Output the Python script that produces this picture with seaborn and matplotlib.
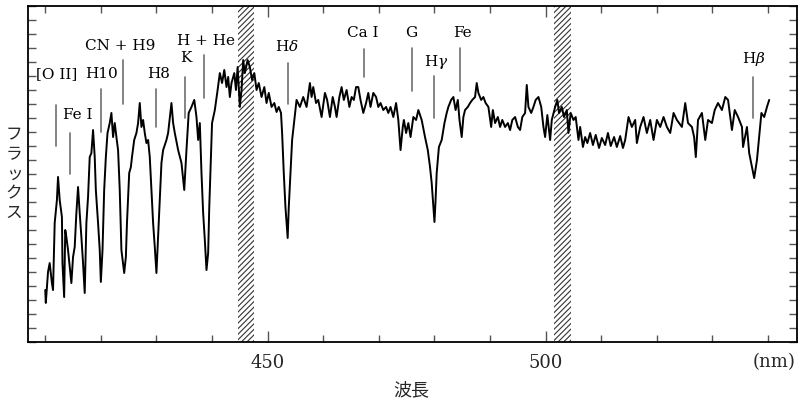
import matplotlib
matplotlib.use("Agg")
import matplotlib.pyplot as plt
import matplotlib.ticker as mticker
import numpy as np
import pandas as pd
import seaborn as sns

# spectrum: wavelength (nm) and flux (in y-tick units)
wl_1 = [410.0, 410.1, 410.5, 410.8, 411.2, 411.4, 411.7, 412.1, 412.3, 412.6,
        413.0, 413.1, 413.4, 413.6, 413.8, 414.1, 414.4, 414.7, 415.0, 415.3,
        415.6, 415.9, 416.2, 416.5, 416.8, 417.1, 417.4, 417.7, 418.0, 418.3,
        418.6, 418.9, 419.1, 419.5, 419.8, 420.0, 420.3, 420.6, 420.9, 421.2,
        421.6, 421.9, 422.2, 422.5, 422.8, 423.1, 423.4, 423.7, 424.2, 424.5,
        424.7, 425.1, 425.4, 425.6, 426.0, 426.4, 426.7, 427.0, 427.3, 427.6,
        427.9, 428.2, 428.5, 428.8, 429.1, 429.4, 429.7, 430.0, 430.3, 430.6,
        430.9, 431.2, 431.8]
flux_1 = [3.71, 2.79, 5.0, 5.64, 4.21, 3.71, 8.5, 10.14, 11.79, 10.14,
          8.93, 5.64, 3.21, 8.0, 7.5, 6.57, 5.36, 4.21, 6.07, 6.79,
          9.21, 11.07, 9.21, 7.5, 5.64, 3.5, 8.5, 10.36, 13.21, 13.5,
          15.14, 13.21, 10.86, 8.5, 6.57, 4.29, 6.57, 10.86, 13.21, 14.93,
          15.64, 16.36, 14.64, 15.64, 14.64, 13.71, 10.86, 6.57, 4.93, 6.07,
          8.5, 12.07, 12.5, 13.21, 14.43, 14.93, 15.64, 17.07, 15.36, 15.86,
          14.93, 14.21, 14.43, 13.21, 10.86, 8.5, 6.79, 4.93, 7.5, 10.14,
          12.79, 13.71, 14.43]

wl_2 = [432.1, 432.7, 433.0, 433.3, 433.9, 434.5, 435.0, 435.4, 435.8, 436.3,
        436.8, 437.2, 437.5, 437.8, 438.1, 438.4, 438.7, 439.0, 439.3, 439.5,
        439.8, 440.0, 440.5, 441.0, 441.4, 441.8, 442.2, 442.6, 442.9, 443.2,
        443.5, 444.0, 444.3, 444.6, 445.0, 445.3, 445.6, 445.9, 446.4, 446.8,
        447.2, 447.6, 448.0, 448.4, 448.9, 449.4, 449.8, 450.2, 450.7, 451.2,
        451.6, 452.0, 452.4, 452.6, 452.9, 453.2, 453.6, 453.8, 454.1, 454.4]
flux_2 = [14.93, 17.07, 15.64, 14.93, 13.71, 12.79, 10.86, 13.71, 16.36, 16.79,
          17.29, 16.07, 14.43, 15.64, 12.07, 9.21, 7.29, 5.14, 6.36, 9.64,
          13.21, 15.64, 16.57, 18.0, 19.21, 18.5, 19.43, 18.21, 18.93, 17.5,
          18.5, 19.21, 18.0, 19.64, 16.79, 18.0, 20.14, 19.21, 20.14, 19.64,
          18.71, 19.21, 18.0, 18.5, 17.5, 18.21, 17.07, 17.79, 16.79, 17.07,
          16.43, 16.79, 16.36, 14.93, 12.07, 9.64, 7.43, 9.64, 12.07, 14.43]

wl_3 = [455.2, 455.8, 456.4, 457.0, 457.6, 457.9, 458.2, 458.7, 459.1, 459.7,
        460.3, 460.7, 461.2, 461.7, 462.1, 462.4, 462.9, 463.3, 463.7, 464.2,
        464.7, 465.1, 465.5, 465.9, 466.3, 466.7, 467.2, 467.7, 468.1, 468.5,
        469.0, 469.5, 469.9, 470.3, 470.8, 471.3, 471.7, 472.1, 472.6, 473.1,
        473.5, 473.9, 474.3, 474.5, 474.9, 475.3, 475.7, 476.2, 476.7, 477.1,
        477.7, 478.3, 478.8, 479.2, 479.5, 479.8, 480.0, 480.2, 480.4, 480.8,
        481.3, 481.8, 482.2, 482.5, 483.0, 483.4, 483.8, 484.2, 484.5, 484.9,
        485.2, 485.5, 486.0, 486.4, 486.8, 487.3, 487.6, 487.9, 488.4, 488.8,
        489.2, 489.7, 490.2, 490.5, 490.9, 491.4, 491.8]
flux_3 = [17.29, 16.79, 17.5, 16.79, 18.5, 17.5, 18.21, 17.07, 17.29, 16.07,
          17.79, 17.29, 16.07, 17.5, 16.79, 16.07, 17.5, 18.21, 17.29, 18.0,
          16.79, 17.5, 17.29, 18.21, 18.21, 17.29, 16.36, 17.07, 17.79, 16.79,
          17.79, 17.5, 16.79, 17.07, 16.57, 16.79, 16.36, 16.79, 16.07, 17.07,
          15.86, 13.71, 15.36, 15.86, 14.93, 15.64, 14.64, 16.07, 15.86, 16.57,
          15.86, 14.64, 13.71, 12.5, 11.36, 9.64, 8.57, 10.14, 12.07, 13.93,
          14.43, 15.64, 16.36, 16.79, 17.29, 17.5, 16.57, 17.29, 15.86, 14.64,
          16.07, 16.57, 16.79, 17.07, 17.29, 17.5, 18.5, 17.79, 17.29, 17.5,
          17.07, 16.79, 15.36, 16.57, 15.64, 16.07, 15.36]

wl_4 = [492.2, 492.7, 493.2, 493.6, 494.0, 494.5, 495.0, 495.4, 495.8, 496.3,
        496.6, 496.9, 497.4, 497.8, 498.2, 498.7, 499.2, 499.6, 499.9, 500.3,
        500.8, 501.1, 501.7, 502.1, 502.4, 502.9, 503.3, 503.8, 504.1, 504.5,
        505.0, 505.4, 505.9, 506.2, 506.7, 507.1, 507.5, 508.0, 508.5, 509.0,
        509.6, 510.1, 510.7, 511.2, 511.7, 512.3, 512.8, 513.4, 513.9, 514.3,
        514.9, 515.5, 516.1, 516.4, 517.0, 517.6, 518.2, 518.8, 519.4, 520.0,
        520.6, 521.2, 521.8, 522.4, 523.0, 523.6, 524.5, 525.1, 525.6, 526.3,
        526.7, 527.0, 527.4, 528.1, 528.7, 529.2, 529.9, 530.4, 531.0, 531.7,
        532.3, 532.8, 533.5, 534.0, 534.6, 535.3, 535.5, 536.2, 536.6, 537.1,
        537.5, 538.0, 538.4, 538.8, 539.3, 539.8, 540.2]
flux_4 = [15.86, 15.36, 15.64, 15.14, 15.86, 16.07, 15.36, 15.14, 16.07, 16.36,
          18.36, 16.79, 16.36, 16.79, 17.29, 17.5, 16.79, 15.36, 14.64, 16.21,
          14.43, 15.86, 16.79, 17.29, 16.36, 16.79, 16.07, 16.57, 14.93, 16.36,
          15.86, 16.07, 14.43, 15.36, 13.93, 14.64, 14.21, 14.93, 14.07, 14.79,
          13.86, 14.57, 14.07, 14.93, 14.0, 14.64, 13.93, 14.71, 13.86, 14.43,
          16.07, 15.36, 15.86, 14.21, 15.36, 16.07, 14.93, 15.86, 14.43, 15.86,
          15.36, 16.07, 15.36, 14.93, 16.36, 15.86, 15.36, 17.07, 15.64, 15.36,
          14.64, 13.21, 15.86, 16.36, 14.43, 15.86, 15.64, 16.57, 17.07, 16.57,
          17.5, 17.29, 15.14, 16.57, 16.07, 15.36, 13.93, 15.36, 13.5, 12.5,
          11.71, 13.0, 14.64, 16.36, 16.07, 16.79, 17.29]

# line identifications
line_names = ["[O II]", "Fe I", "H10", "CN + H9", "H8", "K", "H + He",
              "H$\\delta$", "Ca I", "G", "H$\\gamma$", "Fe", "H$\\beta$"]
line_wl = [412.0, 414.5, 420.0, 424.0, 430.0, 435.05, 438.6,
           453.6, 467.4, 475.9, 479.9, 484.6, 537.3]

# masked (hatched) wavelength bands
bands = [(444.6, 447.6), (501.5, 504.5)]

# where the labels / marker ticks sit
label_pos = [(412.0, 19.14), (415.9, 16.21), (420.1, 19.14), (423.5, 21.14),
             (430.4, 19.14), (435.3, 20.29), (439.0, 21.52), (453.5, 21.1),
             (467.1, 22.07), (475.9, 22.07), (480.4, 20.0), (485.1, 22.07),
             (537.5, 20.21)]
tick_span = [(14.0, 16.93), (12.0, 14.93), (15.0, 18.07), (17.0, 20.14),
             (15.36, 18.07), (16.0, 18.93), (17.43, 20.5), (17.0, 19.93),
             (18.93, 20.93), (17.93, 21.0), (16.0, 19.0), (17.93, 21.0),
             (16.0, 18.93)]

df = pd.DataFrame({"wl": wl_1 + wl_2 + wl_3 + wl_4,
                   "flux": flux_1 + flux_2 + flux_3 + flux_4})

sns.set_style("ticks")
plt.rcParams["font.family"] = ["DejaVu Serif", "Noto Sans CJK JP"]
plt.rcParams["mathtext.fontset"] = "dejavuserif"
plt.rcParams["hatch.linewidth"] = 0.8

fig = plt.figure(figsize=(7.99, 3.99), dpi=100)
ax = fig.add_axes([28 / 799, 57 / 399, 769 / 799, 336 / 399])

for lo, hi in bands:
    ax.axvspan(lo, hi, facecolor="none", edgecolor="#333333", hatch="//////",
               linewidth=0, zorder=1)

sns.lineplot(data=df, x="wl", y="flux", color="black", linewidth=1.4,
             sort=False, estimator=None, ax=ax, zorder=3)

for name, (tx, ty), lw_, (y0, y1) in zip(line_names, label_pos, line_wl, tick_span):
    ax.plot([lw_, lw_], [y0, y1], color="#6e6e6e", linewidth=1.2, zorder=2)
    ax.text(tx, ty, name, ha="center", va="center", fontsize=11, color="black")

ax.set_xlim(406.9, 545.2)
ax.set_ylim(0, 24)
ax.set_xlabel("")
ax.set_ylabel("")

ax.xaxis.set_major_locator(mticker.FixedLocator([450, 500]))
ax.xaxis.set_minor_locator(mticker.FixedLocator([410, 420, 430, 440, 460, 470, 480, 490,
                                                 510, 520, 530, 540]))
ax.set_xticklabels(["450", "500"], fontsize=13)
ax.yaxis.set_major_locator(mticker.MultipleLocator(1))
ax.set_yticklabels([])
ax.tick_params(axis="x", which="major", direction="in", length=8, width=1.0,
               color="#555555", top=True, pad=9)
ax.tick_params(axis="x", which="minor", direction="in", length=5, width=1.0,
               color="#555555", top=True)
ax.tick_params(axis="y", which="major", direction="in", length=6, width=1.0,
               color="#555555", right=True, left=True)
for sp in ax.spines.values():
    sp.set_linewidth(1.3)
    sp.set_color("black")

ax.text(541, -0.06, "(nm)", transform=ax.get_xaxis_transform(), ha="center",
        va="center", fontsize=13)

fig.text(411.7 / 799, 1 - 390 / 399, "波長", ha="center", va="center",
         fontsize=13, family=["Noto Sans CJK JP", "DejaVu Sans"])
fig.text(14 / 799, 1 - 174 / 399, "\n".join("フラックス"), ha="center", va="center",
         fontsize=12, linespacing=1.2, family=["Noto Sans CJK JP", "DejaVu Sans"])

fig.savefig("out.png", dpi=100)
